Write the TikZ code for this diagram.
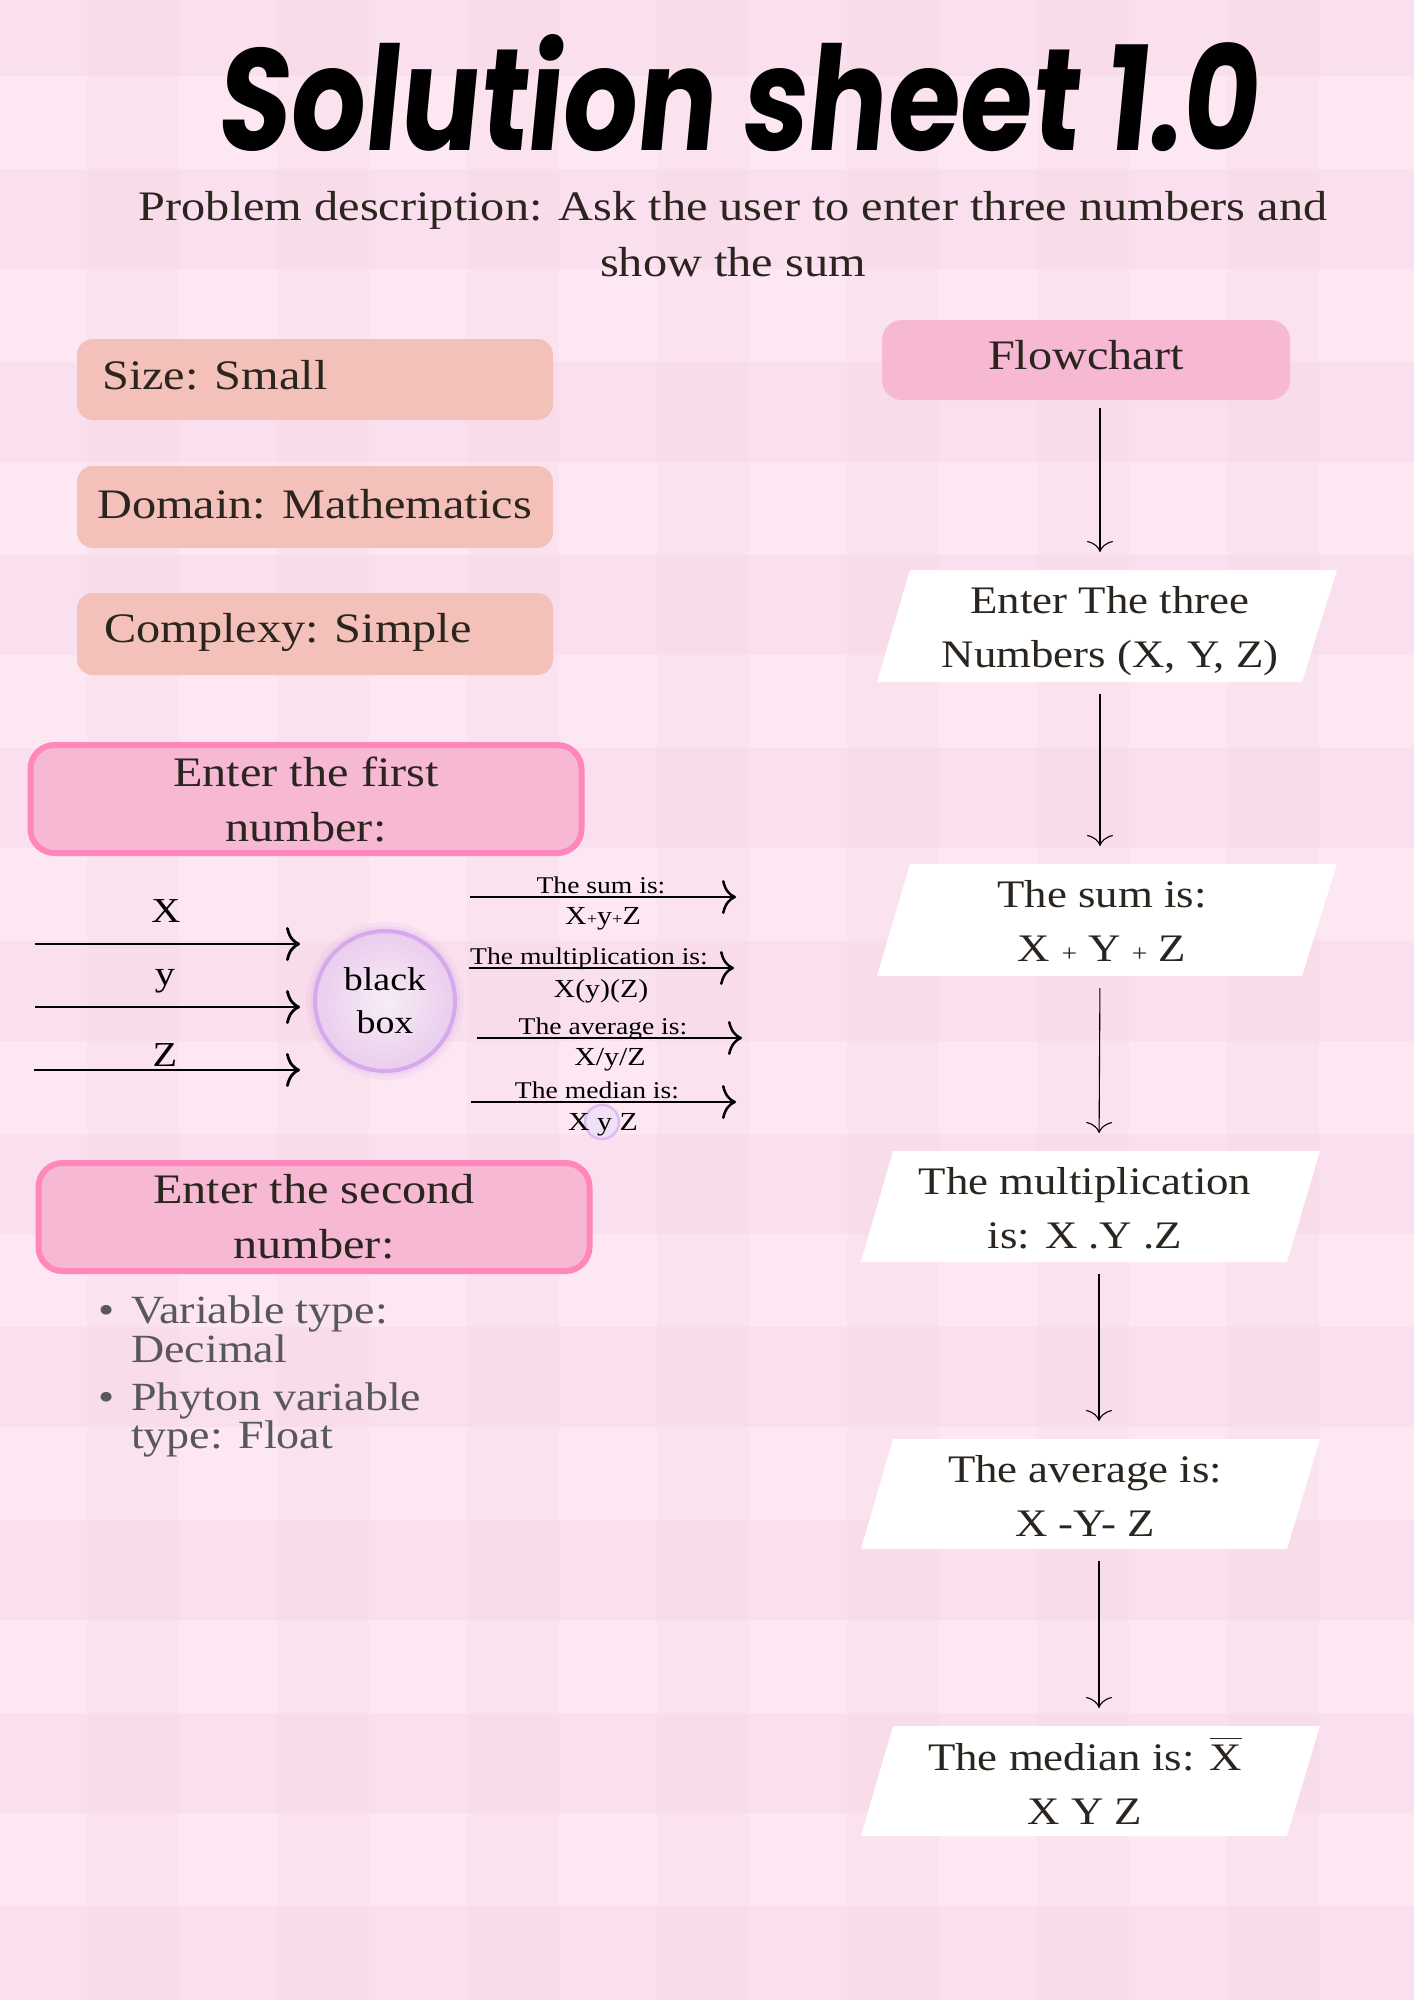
\documentclass[tikz,border=0pt]{standalone}
\usepackage{fontspec}
\setmainfont{Liberation Serif}[FakeStretch=1.15]
\newfontfamily\titlefont{Poppins}[FakeSlant=0.12]
\usetikzlibrary{arrows.meta}
\definecolor{bgc}{HTML}{FCE7F3}
\definecolor{stripe}{HTML}{F2C6DA}
\definecolor{salmon}{HTML}{F3C1B9}
\definecolor{pinkfill}{HTML}{F6B8D3}
\definecolor{hotpink}{HTML}{FF87BC}
\definecolor{ink}{HTML}{2B2520}
\definecolor{graytxt}{HTML}{58575A}
\definecolor{lav}{HTML}{D6A9EC}
\definecolor{lavin}{HTML}{F7EDF5}
\definecolor{lavout}{HTML}{EACDEE}
\newcommand{\fsz}[2]{\fontsize{#1}{#2}\selectfont}
\newcommand{\barX}{{\setbox0\hbox{X}\rlap{\raisebox{31pt}{\rule{\wd0}{1.8pt}}}X}}
\tikzset{
  txt/.style={text=ink, inner sep=0pt},
  tagtxt/.style={txt, font=\fsz{42}{50}, anchor=base west},
  tagbox/.style={fill=salmon, rounded corners=16pt},
  headbox/.style={fill=pinkfill, rounded corners=20pt, minimum width=408pt, minimum height=80pt,
    text=ink, font=\fsz{42}{50}, inner sep=0pt, text height=28pt, text depth=9pt},
  inbox/.style={fill=pinkfill, draw=hotpink, line width=6pt, rounded corners=24pt,
    minimum width=551pt, minimum height=108pt, align=center, text=ink, font=\fsz{42}{55}, inner sep=0pt},
  ptext/.style={txt, align=center, font=\fsz{39}{54}},
  parafill/.style={fill=white},
  flowarrow/.style={draw=black, line width=1.1pt, -{To[length=11pt,width=26pt]}, shorten <=12pt, shorten >=18pt},
  bigarrow/.style={draw=black, line width=2.8pt, -{To[length=14pt,width=34pt]}},
  lbl/.style={text=black, inner sep=0pt, font=\fsz{35}{40}, anchor=base},
  smalltxt/.style={text=black, inner sep=0pt, font=\fsz{24}{28}, anchor=base},
  lowtxt/.style={text=black, inner sep=0pt, font=\fsz{26}{30}, anchor=base},
  bultxt/.style={text=graytxt, inner sep=0pt, font=\fsz{40}{44}, anchor=base west},
}
\begin{document}
\begin{tikzpicture}[x=1pt,y=-1pt]
\useasboundingbox (0,0) rectangle (1414,2000);
% background plaid
\fill[bgc] (0,0) rectangle (1414,2000);
\foreach \x in {-103,87,...,1420} {
  \fill[stripe, opacity=0.14] (\x,0) rectangle ({\x+92},2000);
}
\foreach \y in {-24,169,...,2000} {
  \fill[stripe, opacity=0.20] (0,\y) rectangle (1414,{\y+100});
}
% title
\node[inner sep=0pt, anchor=base, text=black] (title) at (736,150)
  {\resizebox{1040pt}{116pt}{\titlefont\bfseries Solution sheet 1.0}};
\node[txt, align=center, font=\fsz{42}{56}] (desc) at (733,234)
  {Problem description: Ask the user to enter three numbers and\\show the sum};
% tag boxes
\fill[tagbox] (77,339) rectangle (553,420);
\node[tagtxt] (size) at (102,389) {Size: Small};
\fill[tagbox] (77,466) rectangle (553,548);
\node[tagtxt] (domain) at (97,518) {Domain: Mathematics};
\fill[tagbox] (77,593) rectangle (553,675);
\node[tagtxt] (complexy) at (104,642) {Complexy: Simple};
% flowchart
\node[headbox] (fc) at (1086,360) {Flowchart};
\fill[parafill] (910,570) -- (1337,570) -- (1302,682) -- (877,682) -- cycle;
\fill[parafill] (910,864) -- (1337,864) -- (1302,976) -- (877,976) -- cycle;
\fill[parafill] (893,1151) -- (1320,1151) -- (1287,1262) -- (861,1262) -- cycle;
\fill[parafill] (893,1439) -- (1320,1439) -- (1287,1549) -- (861,1549) -- cycle;
\fill[parafill] (893,1726) -- (1320,1726) -- (1287,1836) -- (861,1836) -- cycle;
\coordinate (p1t) at (1100,570); \coordinate (p1b) at (1100,682);
\coordinate (p2t) at (1100,864); \coordinate (p2b) at (1100,976);
\coordinate (p3t) at (1099,1151); \coordinate (p3b) at (1099,1262);
\coordinate (p4t) at (1099,1439); \coordinate (p4b) at (1099,1549);
\coordinate (p5t) at (1099,1726);
\node[ptext] (p1) at (1110,631) {Enter The three\\Numbers (X, Y, Z)};
\node[ptext] (p2) at (1102,921) {The sum is:\\X {\fsz{24}{24}+} Y {\fsz{24}{24}+} Z};
\node[ptext] (p3) at (1085,1208) {The multiplication\\is: X .Y .Z};
\node[ptext] (p4) at (1085,1496) {The average is:\\X -Y- Z};
\node[ptext] (p5) at (1085,1781) {The median is: \barX\\X Y Z};
\draw[flowarrow, shorten <=8pt] (fc.south -| p1t) -- (p1t);
\draw[flowarrow] (p1b) -- (p2t);
\draw[flowarrow] (p2b) -- (p3t);
\draw[flowarrow] (p3b) -- (p4t);
\draw[flowarrow] (p4b) -- (p5t);
% input boxes
\node[inbox] (first) at (306,799) {Enter the first\\number:};
\node[inbox] (second) at (314,1217) {Enter the second\\number:};
% bullets
\node[text=graytxt, font=\fsz{40}{44}, inner sep=0pt, anchor=base] (bu1) at (107,1323) {•};
\node[bultxt] (b1) at (131,1323) {Variable type:};
\node[bultxt] (b1b) at (131,1362) {Decimal};
\node[text=graytxt, font=\fsz{40}{44}, inner sep=0pt, anchor=base] (bu2) at (107,1410) {•};
\node[bultxt] (b2) at (131,1410) {Phyton variable};
\node[bultxt] (b2b) at (131,1448) {type: Float};
% black box
\fill[lav, opacity=0.12] (385,1001) circle (79);
\fill[lav, opacity=0.18] (385,1001) circle (75);
\node[circle, minimum size=140pt, inner sep=0pt, outer sep=0pt, inner color=lavin, outer color=lavout,
  draw=lav, line width=4pt, align=center, text=black, font=\fsz{33}{43}] (bb) at (385,1001) {black\\box};
\coordinate (i1) at (35,944);
\coordinate (i2) at (35,1007);
\coordinate (i3) at (34,1070);
\draw[bigarrow, shorten >=15pt] (i1) -- (i1 -| bb.west);
\draw[bigarrow, shorten >=15pt] (i2) -- (i2 -| bb.west);
\draw[bigarrow, shorten >=15pt] (i3) -- (i3 -| bb.west);
\node[lbl] (lx) at (166,922) {X};
\node[lbl] (ly) at (165,985) {y};
\node[lbl] (lz) at (165,1066) {Z};
% outputs
\coordinate (o1s) at (470,897); \coordinate (o1e) at (736,897);
\coordinate (o2s) at (469,968); \coordinate (o2e) at (734,968);
\coordinate (o3s) at (477,1038); \coordinate (o3e) at (742,1038);
\coordinate (o4s) at (471,1102); \coordinate (o4e) at (736,1102);
\node[circle, minimum size=34pt, inner sep=0pt, fill=lav!35, draw=lav!80, line width=2.5pt] (yc) at (602,1122) {};
\draw[bigarrow, line width=2.5pt] (o1s) -- (o1e);
\draw[bigarrow, line width=2.5pt] (o2s) -- (o2e);
\draw[bigarrow, line width=2.5pt] (o3s) -- (o3e);
\draw[bigarrow, line width=2.5pt] (o4s) -- (o4e);
\node[smalltxt] (s1) at (601,893) {The sum is:};
\node[smalltxt] (s2) at (589,964) {The multiplication is:};
\node[smalltxt] (s3) at (603,1034) {The average is:};
\node[smalltxt] (s4) at (597,1098) {The median is:};
\node[lowtxt] (r1) at (603,924) {X{\fsz{16}{16}+}y{\fsz{16}{16}+}Z};
\node[lowtxt] (r2) at (601,997) {X(y)(Z)};
\node[lowtxt] (r3) at (610,1065) {X/y/Z};
\node[lowtxt] (r4) at (603,1130) {X y Z};
\end{tikzpicture}
\end{document}
